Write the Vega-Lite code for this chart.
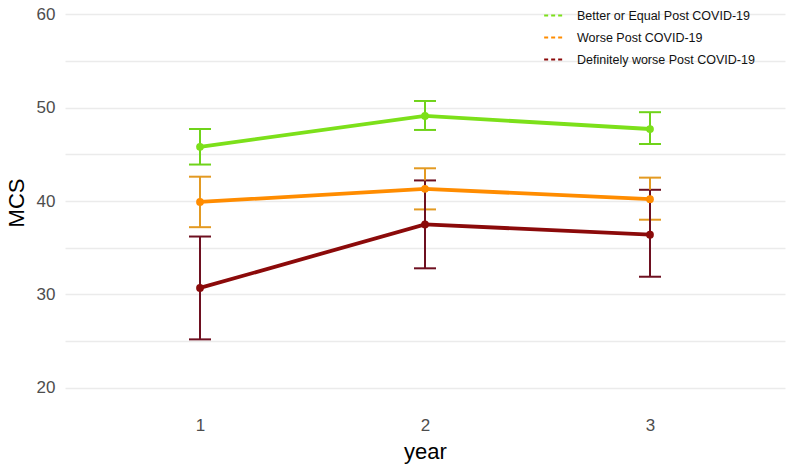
{
  "$schema": "https://vega.github.io/schema/vega-lite/v6.json",
  "width": 720,
  "height": 405,
  "autosize": {"type": "none"},
  "padding": {"left": 65, "top": 0, "right": 2, "bottom": 65},
  "background": "white",
  "config": {
    "font": "Liberation Sans",
    "view": {"stroke": null},
    "axis": {"domain": false, "ticks": false, "labelColor": "#4D4D4D", "titleColor": "#000000", "titleFontWeight": "normal"}
  },
  "data": {
    "values": [
      {"year": 1, "group": "Better or Equal Post COVID-19", "mcs": 45.8, "lo": 43.9, "hi": 47.7},
      {"year": 2, "group": "Better or Equal Post COVID-19", "mcs": 49.1, "lo": 47.6, "hi": 50.7},
      {"year": 3, "group": "Better or Equal Post COVID-19", "mcs": 47.7, "lo": 46.1, "hi": 49.5},
      {"year": 1, "group": " Worse Post COVID-19", "mcs": 39.9, "lo": 37.2, "hi": 42.6},
      {"year": 2, "group": " Worse Post COVID-19", "mcs": 41.3, "lo": 39.1, "hi": 43.5},
      {"year": 3, "group": " Worse Post COVID-19", "mcs": 40.2, "lo": 38.0, "hi": 42.5},
      {"year": 1, "group": "Definitely worse Post COVID-19", "mcs": 30.7, "lo": 25.2, "hi": 36.2},
      {"year": 2, "group": "Definitely worse Post COVID-19", "mcs": 37.5, "lo": 32.8, "hi": 42.2},
      {"year": 3, "group": "Definitely worse Post COVID-19", "mcs": 36.4, "lo": 31.9, "hi": 41.2}
    ]
  },
  "layer": [
    {
      "mark": {"type": "line", "strokeWidth": 3.8},
      "encoding": {
        "x": {"field": "year", "type": "quantitative", "scale": {"domain": [0.4, 3.6], "nice": false, "zero": false},
              "axis": {"values": [1, 2, 3], "format": "d", "grid": false, "labelFontSize": 17, "labelPadding": 12, "title": "year", "titleFontSize": 22, "titlePadding": 8}},
        "y": {"field": "mcs", "type": "quantitative", "title": "MCS", "scale": {"domain": [18.18, 61.5], "nice": false, "zero": false},
              "axis": {"values": [20, 25, 30, 35, 40, 45, 50, 55, 60], "labelExpr": "datum.value % 10 == 0 ? datum.label : ''", "grid": true, "gridColor": "#EBEBEB", "gridWidth": 1.5, "labelFontSize": 17, "labelPadding": 10, "title": "MCS", "titleFontSize": 22, "titlePadding": 8}},
        "color": {"field": "group", "type": "nominal",
                  "scale": {"domain": ["Better or Equal Post COVID-19", " Worse Post COVID-19", "Definitely worse Post COVID-19"], "range": ["#7CE01A", "#FF8C00", "#8B0A0A"]},
                  "legend": {"title": null, "orient": "none", "legendX": 478, "legendY": 5, "labelFontSize": 12.5, "labelLimit": 400, "labelColor": "#111111", "symbolType": "stroke", "symbolDash": [4, 3], "symbolStrokeWidth": 2, "symbolSize": 350, "rowPadding": 5, "labelOffset": 13}}
      }
    },
    {
      "mark": {"type": "errorbar", "thickness": 2, "opacity": 1, "ticks": {"size": 22, "thickness": 2, "opacity": 1}},
      "encoding": {
        "x": {"field": "year", "type": "quantitative"},
        "y": {"field": "lo", "type": "quantitative", "title": "MCS"},
        "y2": {"field": "hi"},
        "color": {"field": "group", "type": "nominal",
                  "scale": {"domain": ["Better or Equal Post COVID-19", " Worse Post COVID-19", "Definitely worse Post COVID-19"], "range": ["#6FD31A", "#E39A22", "#6E1020"]},
                  "legend": null}
      }
    },
    {
      "mark": {"type": "point", "filled": true, "size": 60, "opacity": 1},
      "encoding": {
        "x": {"field": "year", "type": "quantitative"},
        "y": {"field": "mcs", "type": "quantitative", "title": "MCS"},
        "color": {"field": "group", "type": "nominal",
                  "scale": {"domain": ["Better or Equal Post COVID-19", " Worse Post COVID-19", "Definitely worse Post COVID-19"], "range": ["#7CE01A", "#FF8C00", "#8B0A0A"]},
                  "legend": null}
      }
    }
  ],
  "resolve": {"scale": {"color": "independent"}}
}
